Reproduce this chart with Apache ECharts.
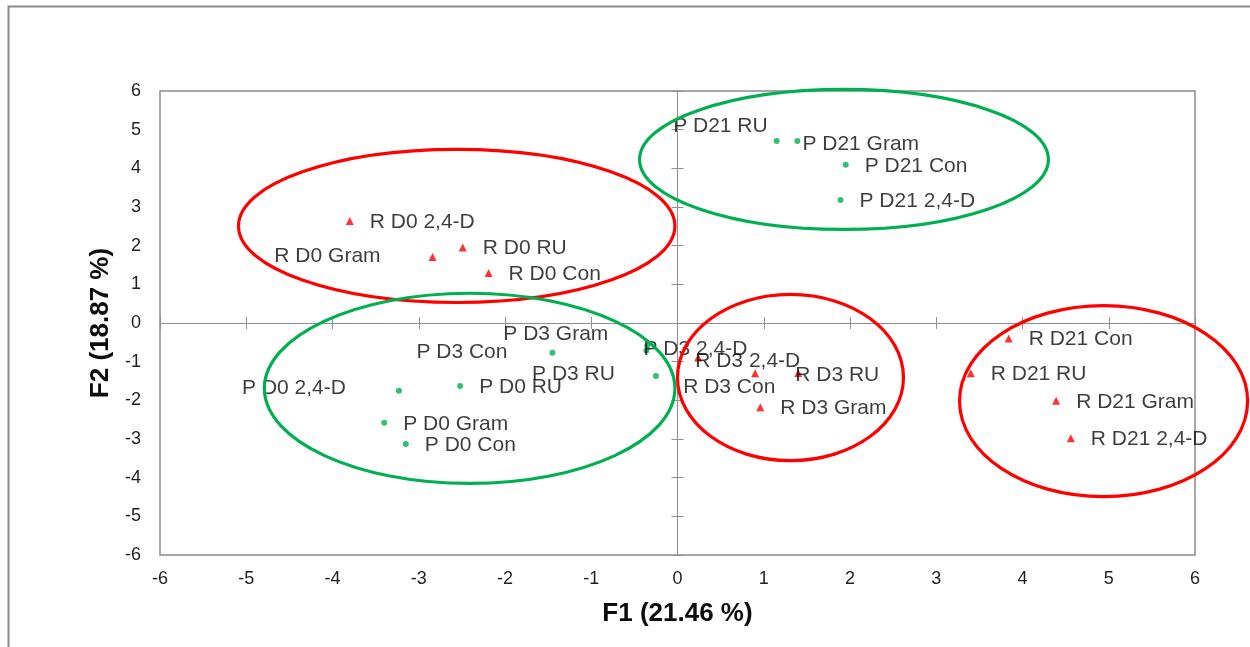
<!DOCTYPE html>
<html>
<head>
<meta charset="utf-8">
<script src="https://cdn.jsdelivr.net/npm/echarts@6/dist/echarts.min.js"></script>
<style>
  html, body { margin: 0; padding: 0; background: #ffffff; }
  #chart { width: 1250px; height: 647px; }
</style>
</head>
<body>
<div id="chart"></div>
<script>
// PCA scores: R samples (triangles) and P samples (circles) on F1 / F2
const rNames = ['R D0 2,4-D', 'R D0 Gram', 'R D0 RU', 'R D0 Con',
                'R D3 2,4-D', 'R D3 Con', 'R D3 RU', 'R D3 Gram',
                'R D21 Con', 'R D21 RU', 'R D21 Gram', 'R D21 2,4-D'];
const rF1 = [-3.80, -2.84, -2.49, -2.19, 0.24, 0.90, 1.40, 0.96, 3.84, 3.40, 4.39, 4.56];
const rF2 = [2.64, 1.71, 1.95, 1.29, -0.89, -1.30, -1.29, -2.18, -0.40, -1.30, -2.01, -2.98];

const pNames = ['P D0 2,4-D', 'P D0 RU', 'P D0 Gram', 'P D0 Con',
                'P D3 Con', 'P D3 Gram', 'P D3 2,4-D', 'P D3 RU',
                'P D21 RU', 'P D21 Gram', 'P D21 Con', 'P D21 2,4-D'];
const pF1 = [-3.23, -2.52, -3.40, -3.15, -1.45, -0.35, -0.36, -0.25, 1.15, 1.39, 1.95, 1.89];
const pF2 = [-1.75, -1.63, -2.58, -3.13, -0.77, -0.59, -0.71, -1.37, 4.71, 4.71, 4.09, 3.18];

// Grouping ellipses (centre and semi-axes in F1/F2 units)
const groupKind = ['R', 'P', 'P', 'R', 'R'];
const groupCx = [-2.56, 1.93, -2.41, 1.31, 4.94];
const groupCy = [2.51, 4.23, -1.69, -1.41, -2.02];
const groupRx = [2.53, 2.37, 2.38, 1.31, 1.67];
const groupRy = [1.98, 1.81, 2.46, 2.15, 2.47];

const axisTicks = [-6, -5, -4, -3, -2, -1, 0, 1, 2, 3, 4, 5, 6];

// colours and label placement
const RED = '#ff0000';
const GREEN = '#00b050';
const TEXT = '#0d0d0d';
const FONT = '"Liberation Sans", Arial, sans-serif';

const labelPlacement = {
  'R D0 Gram':   { position: 'left',  offset: [-32, -1] },
  'P D0 2,4-D':  { position: 'left',  offset: [-34, -2] },
  'P D3 Con':    { position: 'left',  offset: [-26, -1] },
  'P D3 Gram':   { position: 'left',  offset: [-20, -12] },
  'P D3 RU':     { position: 'left',  offset: [-22, -2] },
  'P D3 2,4-D':  { position: 'right', offset: [-22, -1.5] },
  'R D3 2,4-D':  { position: 'right', offset: [-23, 3.5] },
  'R D3 Con':    { position: 'right', offset: [-92, 14] },
  'R D3 RU':     { position: 'right', offset: [-23, 2.5] },
  'P D21 RU':    { position: 'left',  offset: [10, -14.5] },
  'P D21 Gram':  { position: 'right', offset: [-14, 3.5] }
};

function buildPoints(names, xs, ys) {
  return names.map(function (n, i) {
    const place = labelPlacement[n] || { position: 'right', offset: [0, 1] };
    return {
      name: n,
      value: [xs[i], ys[i]],
      label: { position: place.position, offset: place.offset }
    };
  });
}

const ellipseData = groupKind.map(function (k, i) {
  return [groupCx[i], groupCy[i], groupRx[i], groupRy[i], k === 'R' ? 0 : 1];
});

const pointLabel = {
  show: true,
  formatter: '{b}',
  distance: 16,
  fontFamily: FONT,
  fontSize: 21,
  color: TEXT
};

function zeroAxis(inside) {
  return {
    type: 'value', min: -6, max: 6, interval: 1,
    axisLine: { show: true, onZero: true, onZeroAxisIndex: 0, lineStyle: { color: '#8f8f8f', width: 1 } },
    axisTick: { show: true, inside: inside, length: 6, lineStyle: { color: '#8f8f8f', width: 1 } },
    axisLabel: { show: false },
    splitLine: { show: false }
  };
}

const chart = echarts.init(document.getElementById('chart'), null, { renderer: 'canvas' });

chart.setOption({
  backgroundColor: '#ffffff',
  animation: false,
  graphic: [{
    type: 'rect',
    silent: true,
    shape: { x: 8.5, y: 6.5, width: 1300, height: 700 },
    style: { fill: 'none', stroke: '#8a8a8a', lineWidth: 2 },
    z: -10
  }],
  grid: {
    left: 160, right: 55, top: 91, bottom: 92,
    show: true, borderColor: '#8c8c8c', borderWidth: 1.5, backgroundColor: 'transparent'
  },
  xAxis: [
    {
      type: 'value', min: -6, max: 6, interval: 1, position: 'bottom',
      axisLine: { show: false, onZero: false },
      axisTick: { show: false },
      axisLabel: { fontFamily: FONT, fontSize: 18, color: '#1f1f1f', margin: 15,
        customValues: axisTicks },
      splitLine: { show: false },
      name: 'F1 (21.46 %)', nameLocation: 'middle', nameGap: 46,
      nameTextStyle: { fontFamily: FONT, fontSize: 26, fontWeight: 'bold', color: TEXT }
    },
    zeroAxis(true),
    zeroAxis(false)
  ],
  yAxis: [
    {
      type: 'value', min: -6, max: 6, interval: 1, position: 'left',
      axisLine: { show: false, onZero: false },
      axisTick: { show: false },
      axisLabel: { fontFamily: FONT, fontSize: 18, color: '#1f1f1f', margin: 19,
        customValues: axisTicks },
      splitLine: { show: false },
      name: 'F2 (18.87 %)', nameLocation: 'middle', nameGap: 46,
      nameTextStyle: { fontFamily: FONT, fontSize: 26, fontWeight: 'bold', color: TEXT }
    },
    zeroAxis(true),
    zeroAxis(false)
  ],
  series: [
    {
      name: 'R', type: 'scatter', xAxisIndex: 0, yAxisIndex: 0,
      symbol: 'triangle', symbolSize: 8,
      itemStyle: { color: RED },
      label: pointLabel,
      data: buildPoints(rNames, rF1, rF2),
      z: 3
    },
    {
      name: 'P', type: 'scatter', xAxisIndex: 0, yAxisIndex: 0,
      symbol: 'circle', symbolSize: 6,
      itemStyle: { color: GREEN },
      label: pointLabel,
      data: buildPoints(pNames, pF1, pF2),
      z: 3
    },
    {
      name: 'groups', type: 'custom', xAxisIndex: 0, yAxisIndex: 0,
      clip: false, silent: true, z: 10,
      data: ellipseData,
      renderItem: function (params, api) {
        const c = api.coord([api.value(0), api.value(1)]);
        const s = api.size([api.value(2), api.value(3)]);
        return {
          type: 'ellipse',
          shape: { cx: c[0], cy: c[1], rx: s[0], ry: s[1] },
          style: { fill: 'none', stroke: api.value(4) === 0 ? RED : GREEN, lineWidth: 3.2 }
        };
      }
    }
  ]
});
</script>
</body>
</html>
